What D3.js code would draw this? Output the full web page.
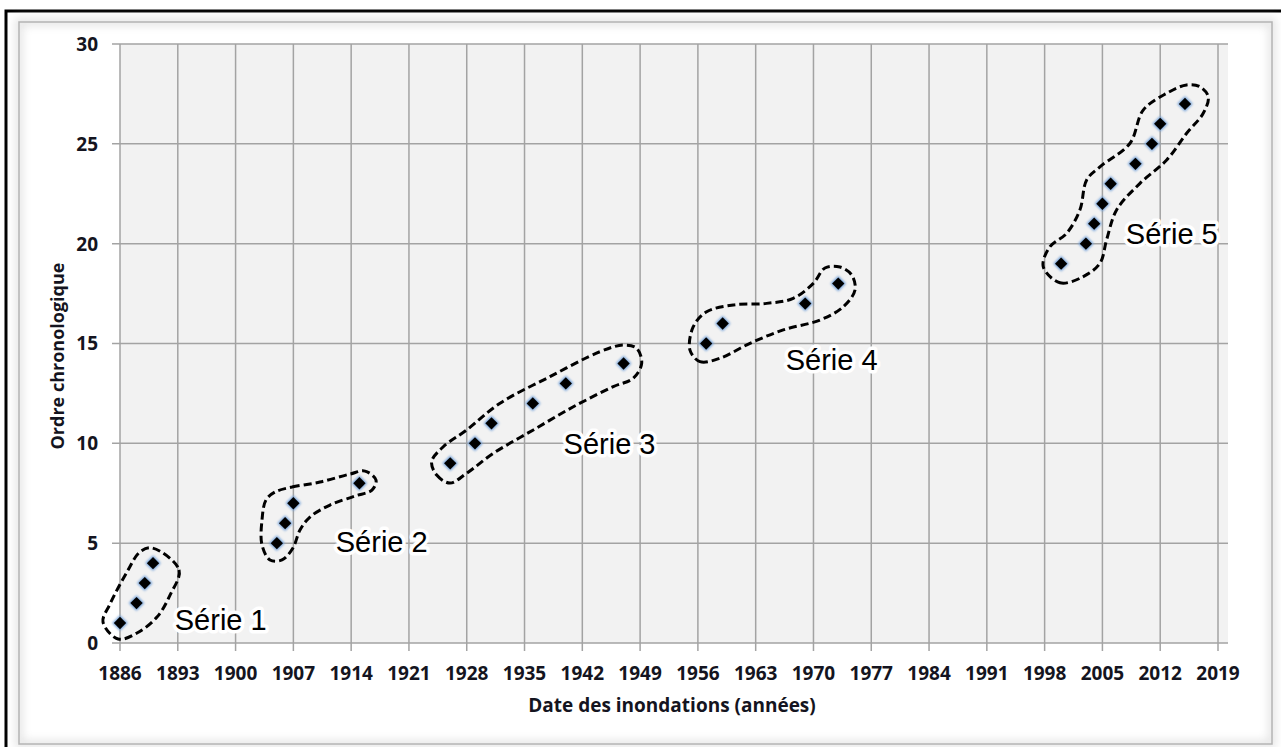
<!DOCTYPE html>
<html><head><meta charset="utf-8">
<script src="https://cdn.jsdelivr.net/npm/d3@7/dist/d3.min.js"></script>
<style>body{margin:0;background:#fff}svg{display:block}</style>
</head><body>
<svg id="chart" width="1281" height="747"></svg>
<script>
// ---------- DATA ----------
const xTickLabels = [1886,1893,1900,1907,1914,1921,1928,1935,1942,1949,1956,1963,1970,1977,1984,1991,1998,2005,2012,2019];
const yTickLabels = [0,5,10,15,20,25,30];

const serie1Years = [1886,1888,1889,1890];
const serie1Order = [1,2,3,4];
const serie2Years = [1905,1906,1907,1915];
const serie2Order = [5,6,7,8];
const serie3Years = [1926,1929,1931,1936,1940,1947];
const serie3Order = [9,10,11,12,13,14];
const serie4Years = [1957,1959,1969,1973];
const serie4Order = [15,16,17,18];
const serie5Years = [2000,2003,2004,2005,2006,2009,2011,2012,2015];
const serie5Order = [19,20,21,22,23,24,25,26,27];

const serieNames = ["Série 1","Série 2","Série 3","Série 4","Série 5"];
const labelYears = [1898.2,1917.7,1945.3,1972.2,2013.4];
const labelOrder = [1.15,5.1,10.0,14.2,20.5];

// hand-drawn group outlines (in data units: [year, order])
const outline1 = [[1889.9,4.76],[1893.15,3.66],[1892.06,2.4],[1890.48,1.3],[1888.06,0.5],[1885.76,0.2],[1883.94,1.05],[1884.79,1.95],[1886.85,3.56],[1888.42,4.56]];
const outline2 = [[1904.77,7.56],[1906.83,7.81],[1910.22,8.06],[1913.86,8.46],[1915.68,8.61],[1917.01,8.16],[1916.52,7.66],[1914.46,7.36],[1911.44,6.91],[1909.01,6.31],[1907.8,5.66],[1906.95,4.76],[1905.62,4.16],[1904.17,4.16],[1903.2,4.91],[1903.2,6.16],[1903.68,7.16]];
const outline3 = [[1923.75,9.08],[1924.36,8.41],[1925.97,8.01],[1927.99,8.5],[1931.22,9.5],[1936.06,10.67],[1940.91,11.83],[1945.75,12.84],[1948.17,13.26],[1949.19,14.01],[1948.58,14.76],[1946.96,14.92],[1944.14,14.59],[1938.08,13.34],[1932.03,12.01],[1927.99,10.67],[1925.16,9.83]];
const outline4 = [[1955.04,14.67],[1956.25,14.09],[1958.67,14.26],[1962.31,15.01],[1966.34,15.68],[1970.82,16.18],[1973.61,16.84],[1975.03,17.68],[1974.63,18.43],[1973.21,18.83],[1971.39,18.78],[1969.98,18.01],[1967.55,17.26],[1964.33,17.01],[1960.29,16.93],[1957.06,16.59],[1955.44,15.84]];
const outline5 = [[1997.83,18.85],[1999.86,18.04],[2002.68,18.35],[2004.7,19.02],[2005.51,20.2],[2006.73,21.7],[2009.55,23.02],[2012.78,24.19],[2015.2,25.53],[2017.21,26.53],[2017.82,27.36],[2016.81,27.86],[2015.2,27.95],[2012.78,27.53],[2009.94,26.69],[2008.34,25.03],[2004.7,23.85],[2003.09,23.19],[2002.28,21.7],[2000.67,20.52],[1998.65,19.85]];

const xTitle = "Date des inondations (années)";
const yTitle = "Ordre chronologique";

// ---------- DRAW ----------
const svg = d3.select("#chart");
const W = 1281, H = 747;
const textColor = "#141420";
const fontAxis = "'Open Sans', 'Liberation Sans', sans-serif";

const defs = svg.append("defs");
const f = defs.append("filter").attr("id","glow").attr("x","-50%").attr("y","-50%").attr("width","200%").attr("height","200%");
f.append("feGaussianBlur").attr("stdDeviation",1.2);
const sh = defs.append("filter").attr("id","shadow").attr("x","-5%").attr("y","-5%").attr("width","110%").attr("height","110%");
sh.append("feGaussianBlur").attr("stdDeviation",4);

// frame
svg.append("rect").attr("x",0).attr("y",0).attr("width",W).attr("height",H).attr("fill","#fff");
svg.append("path").attr("d",`M6,${H} L6,11 L${W},11`).attr("fill","none").attr("stroke","#000").attr("stroke-width",3);
svg.append("rect").attr("x",19).attr("y",22).attr("width",1253).attr("height",722)
  .attr("fill","none").attr("stroke","#e2e2e2").attr("stroke-width",7).attr("filter","url(#shadow)");
svg.append("rect").attr("x",19).attr("y",22).attr("width",1253).attr("height",722)
  .attr("fill","none").attr("stroke","#b4b4b4").attr("stroke-width",1.5);

const x = d3.scaleLinear().domain([1886,2019]).range([120,1218]);
const y = d3.scaleLinear().domain([0,30]).range([643,44]);
const plotRight = x(2019) + 10;

// plot background
svg.append("rect").attr("x",x(1886)).attr("y",y(30)).attr("width",plotRight - x(1886)).attr("height",y(0)-y(30)).attr("fill","#f2f2f2");

const gridColor = "#a3a3a3";
// horizontal grid
svg.append("g").selectAll("line").data(yTickLabels).join("line")
  .attr("x1",x(1886)-8).attr("x2",plotRight).attr("y1",d=>y(d)).attr("y2",d=>y(d))
  .attr("stroke",gridColor).attr("stroke-width",1.5);
// vertical grid
svg.append("g").selectAll("line").data(xTickLabels).join("line")
  .attr("x1",d=>x(d)).attr("x2",d=>x(d)).attr("y1",y(30)).attr("y2",y(0)+8)
  .attr("stroke",gridColor).attr("stroke-width",1.5);

// tick labels
svg.append("g").selectAll("text").data(yTickLabels).join("text")
  .attr("x",98).attr("y",d=>y(d)).attr("dy","0.36em").attr("text-anchor","end")
  .attr("font-family",fontAxis).attr("font-weight","bold").attr("font-size",19).attr("fill",textColor)
  .text(d=>d);
svg.append("g").selectAll("text").data(xTickLabels).join("text")
  .attr("x",d=>x(d)).attr("y",y(0)+30).attr("dy","0.36em").attr("text-anchor","middle")
  .attr("font-family",fontAxis).attr("font-weight","bold").attr("font-size",19).attr("fill",textColor)
  .text(d=>d);

// axis titles
svg.append("text").attr("x",672).attr("y",705).attr("dy","0.36em").attr("text-anchor","middle")
  .attr("font-family",fontAxis).attr("font-weight","bold").attr("font-size",19).attr("fill",textColor).text(xTitle);
svg.append("text").attr("transform","translate(58,356) rotate(-90)").attr("dy","0.36em").attr("text-anchor","middle")
  .attr("font-family",fontAxis).attr("font-weight","bold").attr("font-size",18).attr("fill",textColor).text(yTitle);

// outlines
const outlineLine = d3.line().x(d=>x(d[0])).y(d=>y(d[1])).curve(d3.curveCatmullRomClosed.alpha(0.5));
svg.append("g").selectAll("path").data([outline1,outline2,outline3,outline4,outline5]).join("path")
  .attr("d",outlineLine).attr("fill","none").attr("stroke","#000").attr("stroke-width",3)
  .attr("stroke-dasharray","8,4");

// points
const allSeries = [[serie1Years,serie1Order],[serie2Years,serie2Order],[serie3Years,serie3Order],[serie4Years,serie4Order],[serie5Years,serie5Order]];
const pts = allSeries.flatMap(([ys,os]) => ys.map((yr,i)=>({year:yr, order:os[i]})));
const sq = d3.symbol().type(d3.symbolSquare).size(76);
const gp = svg.append("g");
gp.selectAll("path.glow").data(pts).join("path").attr("class","glow")
  .attr("d",d3.symbol().type(d3.symbolSquare).size(120))
  .attr("transform",d=>`translate(${x(d.year)},${y(d.order)}) rotate(45)`)
  .attr("fill","#6f9fd8").attr("filter","url(#glow)");
gp.selectAll("path.pt").data(pts).join("path").attr("class","pt")
  .attr("d",sq)
  .attr("transform",d=>`translate(${x(d.year)},${y(d.order)}) rotate(45)`)
  .attr("fill","#000");

// series labels
svg.append("g").selectAll("text").data(serieNames).join("text")
  .attr("x",(d,i)=>x(labelYears[i])).attr("y",(d,i)=>y(labelOrder[i])).attr("dy","0.36em")
  .attr("text-anchor","middle").attr("font-family","'Liberation Sans', Arial, sans-serif").attr("font-size",29)
  .attr("fill","#000").attr("stroke","#fff").attr("stroke-width",7).attr("stroke-linejoin","round")
  .attr("paint-order","stroke").text(d=>d);
</script>
</body></html>
